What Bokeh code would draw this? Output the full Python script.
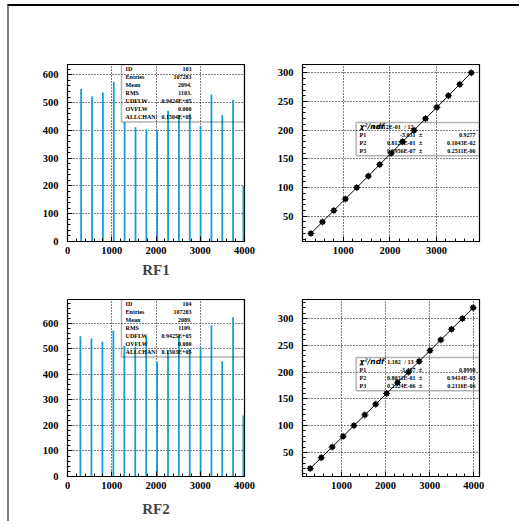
from bokeh.plotting import figure
from bokeh.models import Range1d, SingleIntervalTicker, Label, BoxAnnotation
from bokeh.layouts import column, row
from bokeh.embed import file_html
from bokeh.resources import INLINE

# ---------------- data ----------------
rf1_peak_x = [308, 554, 800, 1046, 1291, 1537, 1782, 2028, 2273, 2518, 2763, 3008, 3253, 3498, 3742, 3975]
rf1_counts = [549, 522, 536, 575, 430, 411, 404, 398, 471, 455, 460, 417, 529, 454, 510, 200]
rf2_peak_x = [292, 541, 789, 1037, 1284, 1531, 1778, 2025, 2271, 2517, 2762, 3008, 3253, 3497, 3742, 3975]
rf2_counts = [550, 541, 528, 572, 513, 509, 549, 450, 494, 553, 500, 507, 592, 452, 624, 239]

fit1_x = [308, 554, 800, 1046, 1291, 1537, 1782, 2028, 2273, 2518, 2763, 3008, 3253, 3498, 3742]
fit1_y = [20, 40, 60, 80, 100, 120, 140, 160, 180, 200, 220, 240, 260, 280, 300]
fit2_x = [292, 541, 789, 1037, 1284, 1531, 1778, 2025, 2271, 2517, 2762, 3008, 3253, 3497, 3742, 3986]
fit2_y = [20, 40, 60, 80, 100, 120, 140, 160, 180, 200, 220, 240, 260, 280, 300, 320]

stat_labels = ["ID", "Entries", "Mean", "RMS", "UDFLW", "OVFLW", "ALLCHAN"]
stat1_values = ["103", "107283", "2094.", "1103.", "0.9424E+05", "0.000", "0.1504E+05"]
stat2_values = ["104", "107283", "2089.", "1109.", "0.9425E+05", "0.000", "0.1503E+05"]

fit_labels = ["P1", "P2", "P3"]
fit1_chi = ["0.6112E-01", "12"]
fit1_vals = ["-5.031", "0.8125E-01", "0.6956E-07"]
fit1_errs = ["0.9277", "0.1043E-02", "0.2511E-06"]
fit2_chi = ["1.182", "13"]
fit2_vals = ["-3.487", "0.8031E-01", "0.2124E-06"]
fit2_errs = ["0.8998", "0.9414E-03", "0.2116E-06"]

FONT = "Liberation Serif"
BAR = "#159fd0"


def make_fig(xr, yr, w, h, mbl, mbr, mbt, mbb, xint, yint, title=None, title_standoff=6):
    p = figure(width=w, height=h, x_range=Range1d(*xr), y_range=Range1d(*yr),
               output_backend="svg", toolbar_location=None,
               min_border_left=mbl, min_border_right=mbr,
               min_border_top=mbt, min_border_bottom=mbb)
    p.background_fill_color = "white"
    p.border_fill_color = "white"
    p.outline_line_color = "black"
    p.outline_line_width = 1.2
    p.xaxis.ticker = SingleIntervalTicker(interval=xint, num_minor_ticks=5)
    p.yaxis.ticker = SingleIntervalTicker(interval=yint, num_minor_ticks=5)
    for ax in (p.xaxis[0], p.yaxis[0]):
        ax.axis_line_color = "black"
        ax.major_tick_in = 5
        ax.major_tick_out = 0
        ax.minor_tick_in = 3
        ax.minor_tick_out = 0
        ax.major_tick_line_color = "black"
        ax.minor_tick_line_color = "black"
        ax.major_label_text_font = FONT
        ax.major_label_text_font_style = "bold"
        ax.major_label_text_font_size = "10.5px"
        ax.major_label_text_color = "black"
    p.xaxis.major_label_standoff = 5
    p.yaxis.major_label_standoff = 9
    for g in (p.xgrid[0], p.ygrid[0]):
        g.grid_line_color = "black"
        g.grid_line_dash = "1 2"
        g.grid_line_width = 1
    if title:
        p.xaxis.axis_label = title
        p.xaxis.axis_label_text_font = FONT
        p.xaxis.axis_label_text_font_style = "bold"
        p.xaxis.axis_label_text_font_size = "15px"
        p.xaxis.axis_label_standoff = title_standoff
    return p


def fx(p, f):
    return p.x_range.start + f * (p.x_range.end - p.x_range.start)


def fy(p, f):
    return p.y_range.start + f * (p.y_range.end - p.y_range.start)


def txt(p, xf, yf, s, align="left", size="6px", style="bold", font=FONT):
    p.add_layout(Label(x=fx(p, xf), y=fy(p, yf), text=s, text_align=align,
                       text_baseline="middle", text_font=font, text_font_style=style,
                       text_font_size=size, text_color="black"))


def stat_box(p, values):
    p.add_layout(BoxAnnotation(left=fx(p, 0.305), right=fx(p, 1.0), top=fy(p, 1.0),
                               bottom=fy(p, 0.675), fill_alpha=0, line_color="black",
                               line_width=1.5))
    for i, (lab, val) in enumerate(zip(stat_labels, values)):
        yf = 1.0 - (4.2 + 8.1 * i) / 177
        txt(p, 0.328, yf, lab + (":" if lab == "ALLCHAN" else ""))
        txt(p, 0.70, yf, val, align="right")


def fit_box(p, chi, vals, errs):
    p.add_layout(BoxAnnotation(left=fx(p, 0.303), right=fx(p, 1.0), top=fy(p, 0.672),
                               bottom=fy(p, 0.485), fill_alpha=0, line_color="black",
                               line_width=1.5))
    y0 = 0.672 - 4.3 / 177
    txt(p, 0.322, y0, "χ²/ndf", style="bold italic", size="7.5px", font="DejaVu Sans")
    txt(p, 0.555, y0, chi[0], align="right")
    txt(p, 0.575, y0, "/  " + chi[1])
    for i in range(3):
        yf = y0 - 8.1 * (i + 1) / 177
        txt(p, 0.322, yf, fit_labels[i])
        txt(p, 0.638, yf, vals[i], align="right")
        txt(p, 0.668, yf, "±", align="center", size="7px")
        txt(p, 0.977, yf, errs[i], align="right")


# ---------------- top-left: RF1 histogram ----------------
p1 = make_fig((0, 4000), (0, 637), 263, 277, 58, 28, 58, 42, 1000, 100, "RF1", 5)
p1.segment(x0=rf1_peak_x, y0=[0] * len(rf1_peak_x), x1=rf1_peak_x, y1=rf1_counts,
           line_color=BAR, line_width=1.8)
stat_box(p1, stat1_values)

# ---------------- top-right: RF1 calibration ----------------
p2 = make_fig((128, 3920), (6, 314.5), 247, 277, 30, 40, 58, 42, 1000, 50)
p2.line(fit1_x, fit1_y, line_color="black", line_width=1)
p2.scatter(fit1_x, fit1_y, marker="cross", size=7, line_color="black", line_width=1)
p2.scatter(fit1_x, fit1_y, marker="square", size=4, fill_color="black", line_color="black")
fit_box(p2, fit1_chi, fit1_vals, fit1_errs)

# ---------------- bottom-left: RF2 histogram ----------------
p3 = make_fig((0, 4000), (0, 694), 263, 238, 58, 28, 16, 45, 1000, 100, "RF2", 9)
p3.segment(x0=rf2_peak_x, y0=[0] * len(rf2_peak_x), x1=rf2_peak_x, y1=rf2_counts,
           line_color=BAR, line_width=1.8)
stat_box(p3, stat2_values)

# ---------------- bottom-right: RF2 calibration ----------------
p4 = make_fig((117, 4130), (5, 335.4), 247, 238, 30, 40, 16, 45, 1000, 50)
p4.line(fit2_x, fit2_y, line_color="black", line_width=1)
p4.scatter(fit2_x, fit2_y, marker="cross", size=7, line_color="black", line_width=1)
p4.scatter(fit2_x, fit2_y, marker="square", size=4, fill_color="black", line_color="black")
fit_box(p4, fit2_chi, fit2_vals, fit2_errs)

layout = column(row(p1, p2), row(p3, p4),
                styles={"margin-left": "7px", "margin-top": "4px",
                        "border-top": "2px solid black", "border-left": "2px solid #808080"})

open("out.html", "w").write(file_html(layout, INLINE))
